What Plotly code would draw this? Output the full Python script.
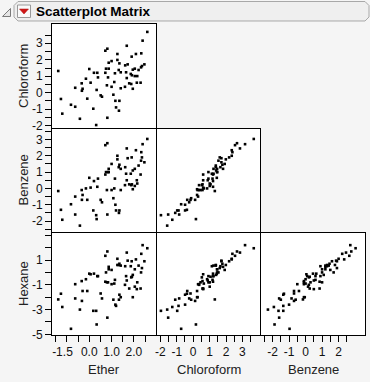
import plotly.graph_objects as go

# ---------------- data ----------------
ether = [2.60, 2.39, 1.68, 0.81, 0.72, 1.26, 2.33, 2.09, 1.90, 1.26,
         1.00, 0.87, 1.35, 1.72, 1.61, 2.47, 2.36, 2.32, 2.04, 2.21,
         1.95, 0.00, 0.75, 0.87, 1.32, -1.39, 0.21, 0.36, 0.72, 1.15,
         1.41, 1.65, 1.86, 1.91, 2.04, 2.15, -0.15, 0.39, 0.84, 1.68,
         -0.34, 0.06, 1.12, 0.79, 1.79, 1.88, 2.13, 2.30, 1.00, -0.63,
         -0.30, 0.33, 1.41, 1.60, 1.95, -0.33, 0.51, 0.57, 1.08, -0.09,
         -1.27, 1.17, 1.35, -0.82, -0.63, 0.18, 1.20, 1.33, -1.21, -0.42,
         0.81, 0.31]
chloroform = [3.69, 3.16, 2.85, 2.67, 2.55, 2.35, 2.39, 2.35, 2.19, 1.99,
              1.92, 1.82, 1.78, 1.72, 1.66, 1.72, 1.62, 1.54, 1.46, 1.38,
              1.40, 1.44, 1.46, 1.46, 1.38, 1.32, 1.21, 1.21, 1.21, 1.18,
              1.24, 1.24, 1.14, 1.06, 1.01, 1.01, 0.85, 0.93, 0.93, 0.89,
              0.57, 0.61, 0.65, 0.45, 0.57, 0.53, 0.61, 0.61, 0.36, 0.30,
              0.24, 0.17, 0.27, 0.36, 0.24, 0.12, -0.16, -0.24, -0.12, -0.36,
              -0.38, -0.49, -0.49, -0.73, -0.85, -0.97, -0.89, -1.09, -1.27, -1.58,
              -1.52, -1.96]
benzene = [3.03, 2.71, 2.45, 2.77, 2.65, 2.00, 2.22, 2.34, 1.90, 1.78,
           1.50, 1.20, 1.45, 1.85, 1.30, 1.60, 1.90, 1.70, 1.20, 1.40,
           1.10, 0.65, 1.00, 1.00, 1.30, -0.16, 0.45, 0.10, 0.85, 0.60,
           1.20, 0.90, 0.90, 0.25, 0.15, 0.30, 0.00, 0.60, 1.00, 0.50,
           -0.10, 0.05, 0.00, -0.10, 0.25, 0.20, 0.50, 0.85, -0.10, -0.50,
           -0.40, -1.88, -0.10, 0.20, -0.05, -0.70, -0.70, -0.85, -0.60, -0.70,
           -1.31, -1.00, -1.35, -0.97, -1.60, -1.35, -1.35, -1.50, -1.92, -2.28,
           -1.60, -1.64]
hexane = [1.95, 2.20, 1.60, 1.69, 1.34, 1.10, 1.50, 1.05, 0.90, 0.60,
          0.20, 0.45, 0.70, 0.95, 0.50, 0.90, 0.35, 0.00, 0.25, 0.55,
          -0.20, -0.10, 0.00, 0.25, 0.60, -2.18, -0.10, -0.30, -0.75, -0.60,
          0.55, -0.30, 0.50, -0.35, -1.15, -0.80, -0.55, -0.30, -0.80, -0.65,
          -0.70, -0.15, -0.90, -0.80, -1.30, -0.40, -1.35, -1.30, -0.95, -0.95,
          -1.50, -4.20, -2.00, -1.00, -2.00, -2.30, -1.70, -2.10, -2.20, -1.50,
          -1.72, -2.60, -1.80, -4.55, -2.10, -3.10, -2.70, -2.20, -2.79, -3.00,
          -3.65, -3.10]

variables = ["Ether", "Chloroform", "Benzene", "Hexane"]

# axis ranges and tick labels
ether_range = [-1.67, 2.99]
ether_ticks = [-1.5, 0, 1, 2]
ether_ticktext = ["\u00a0\u00a0\u00a0\u00a0-1.5", "0.0", "1.0", "2.0"]
ether_minor = [-1.5, -1.0, -0.5, 0.0, 0.5, 1.0, 1.5, 2.0, 2.5]

chloro_range_x = [-2.2, 4.07]
chloro_range_y = [-2.14, 4.17]
chloro_ticks = [-2, -1, 0, 1, 2, 3]
chloro_minor = [-2.0, -1.5, -1.0, -0.5, 0.0, 0.5, 1.0, 1.5, 2.0, 2.5, 3.0, 3.5]

benz_range_x = [-2.7, 3.6]
benz_range_y = [-2.67, 3.64]
benz_ticks_x = [-2, -1, 0, 1, 2]
benz_ticks_y = [-2, -1, 0, 1, 2, 3]
benz_minor = [-2.5, -2.0, -1.5, -1.0, -0.5, 0.0, 0.5, 1.0, 1.5, 2.0, 2.5, 3.0, 3.5]

hex_range = [-5.05, 3.18]
hex_ticks = [1, -1, -3, -5]
hex_minor = [-5, -4, -3, -2, -1, 0, 1, 2, 3]

# ---------------- layout helpers ----------------
W, H = 370, 382
FONT = "Liberation Sans, Arial, sans-serif"


def fx(p):
    return p / W


def fy(p):
    return 1 - p / H


# panel pixel boxes (adjacent panels share one border pixel)
cols = [(52, 156), (157, 260), (261, 365)]
rows = [(24, 128), (129, 232), (233, 335)]

data = {"Ether": ether, "Chloroform": chloroform, "Benzene": benzene, "Hexane": hexane}

# (x variable, y variable, column, row)
panels = [
    ("Ether", "Chloroform", 0, 0),
    ("Ether", "Benzene", 0, 1),
    ("Chloroform", "Benzene", 1, 1),
    ("Ether", "Hexane", 0, 2),
    ("Chloroform", "Hexane", 1, 2),
    ("Benzene", "Hexane", 2, 2),
]

xcfg = {
    "Ether": dict(range=ether_range, tickvals=ether_ticks, ticktext=ether_ticktext, minor=ether_minor),
    "Chloroform": dict(range=chloro_range_x, tickvals=chloro_ticks,
                       ticktext=[str(v) for v in chloro_ticks], minor=chloro_minor),
    "Benzene": dict(range=benz_range_x, tickvals=benz_ticks_x,
                    ticktext=[str(v) for v in benz_ticks_x], minor=[v for v in benz_minor if v <= 2.5]),
}
ycfg = {
    "Chloroform": dict(range=chloro_range_y, tickvals=chloro_ticks,
                       ticktext=[str(v) for v in chloro_ticks], minor=chloro_minor),
    "Benzene": dict(range=benz_range_y, tickvals=benz_ticks_y,
                    ticktext=[str(v) for v in benz_ticks_y], minor=benz_minor),
    "Hexane": dict(range=hex_range, tickvals=hex_ticks,
                   ticktext=[str(v) for v in hex_ticks], minor=hex_minor),
}

fig = go.Figure()
layout = {}

for i, (xv, yv, c, r) in enumerate(panels):
    n = "" if i == 0 else str(i + 1)
    fig.add_trace(go.Scatter(
        x=data[xv], y=data[yv], mode="markers",
        marker=dict(symbol="square", size=2.6, color="black", line=dict(width=0)),
        xaxis="x" + n, yaxis="y" + n, showlegend=False, hoverinfo="x+y",
    ))
    x0, x1 = cols[c]
    y0, y1 = rows[r]
    xc = xcfg[xv]
    yc = ycfg[yv]
    show_x = (r == 2)
    show_y = (c == 0)
    xa = dict(
        domain=[fx(x0), fx(x1)], range=xc["range"], anchor="y" + n, automargin=False,
        showgrid=False, zeroline=False, showline=True, mirror=True,
        linecolor="black", linewidth=1, fixedrange=True,
    )
    ya = dict(
        domain=[fy(y1), fy(y0)], range=yc["range"], anchor="x" + n, automargin=False,
        showgrid=False, zeroline=False, showline=True, mirror=True,
        linecolor="black", linewidth=1, fixedrange=True,
    )
    if show_x:
        xa.update(tickmode="array", tickvals=xc["tickvals"], ticktext=xc["ticktext"],
                  ticks="outside", ticklen=6, tickwidth=1, tickcolor="black",
                  tickfont=dict(family=FONT, size=12, color="#111111"),
                  minor=dict(tickmode="array", tickvals=xc["minor"], ticks="outside",
                             ticklen=6, tickwidth=1, tickcolor="black", showgrid=False))
    else:
        xa.update(showticklabels=False, ticks="")
    if show_y:
        ya.update(tickmode="array", tickvals=yc["tickvals"], ticktext=yc["ticktext"],
                  ticks="outside", ticklen=6, tickwidth=1, tickcolor="black",
                  tickfont=dict(family=FONT, size=12, color="#111111"),
                  minor=dict(tickmode="array", tickvals=yc["minor"], ticks="outside",
                             ticklen=6, tickwidth=1, tickcolor="black", showgrid=False))
    else:
        ya.update(showticklabels=False, ticks="")
    layout["xaxis" + n] = xa
    layout["yaxis" + n] = ya

# white panel backgrounds
shapes = []
for (xv, yv, c, r) in panels:
    x0, x1 = cols[c]
    y0, y1 = rows[r]
    shapes.append(dict(type="rect", xref="paper", yref="paper", layer="below",
                       x0=fx(x0), x1=fx(x1), y0=fy(y1), y1=fy(y0),
                       fillcolor="white", line=dict(width=0)))

# title bar (outline box, disclosure triangle, red menu button)
def path(points, close=True):
    s = "M " + " L ".join(f"{fx(a):.5f},{fy(b):.5f}" for a, b in points)
    return s + (" Z" if close else "")

bx0, bx1, by0, by1, rr = 14, 369, 1.5, 21, 4
box = [(bx0 + rr, by0), (bx1 - rr, by0), (bx1, by0 + rr), (bx1, by1 - rr), (bx1 - rr, by1),
       (bx0 + rr, by1), (bx0, by1 - rr), (bx0, by0 + rr)]
shapes.append(dict(type="path", xref="paper", yref="paper", path=path(box),
                   fillcolor="#efefef", line=dict(color="#a8a8a8", width=1), layer="below"))
shapes.append(dict(type="path", xref="paper", yref="paper",
                   path=path([(10.5, 8.5), (10.5, 16.5), (2.5, 16.5)]),
                   fillcolor="#e6e6e6", line=dict(color="#7a7a7a", width=1)))
shapes.append(dict(type="rect", xref="paper", yref="paper",
                   x0=fx(17.5), x1=fx(30.5), y0=fy(17.5), y1=fy(5),
                   fillcolor="#fafafa", line=dict(color="#9a9a9a", width=1)))
shapes.append(dict(type="path", xref="paper", yref="paper",
                   path=path([(19.5, 9), (28.5, 9), (24, 14)]),
                   fillcolor="#d01818", line=dict(color="#b01010", width=0.5)))

annotations = [
    dict(text="<b>Scatterplot Matrix</b>", x=fx(33.5), y=fy(11.5), xref="paper", yref="paper",
         xanchor="left", yanchor="middle", showarrow=False,
         font=dict(family=FONT, size=13.5, color="black")),
]
# axis titles
ytitles = ["Chloroform", "Benzene", "Hexane"]
xtitles = ["Ether", "Chloroform", "Benzene"]
for r, t in enumerate(ytitles):
    y0, y1 = rows[r]
    annotations.append(dict(text=t, x=fx(23), y=fy((y0 + y1) / 2), xref="paper", yref="paper",
                            textangle=-90, xanchor="center", yanchor="middle", showarrow=False,
                            font=dict(family=FONT, size=13, color="#222222")))
for c, t in enumerate(xtitles):
    x0, x1 = cols[c]
    annotations.append(dict(text=t, x=fx((x0 + x1) / 2), y=fy(369), xref="paper", yref="paper",
                            xanchor="center", yanchor="middle", showarrow=False,
                            font=dict(family=FONT, size=13, color="#222222")))

fig.update_layout(
    template="none",
    width=W, height=H, autosize=False,
    margin=dict(l=0, r=0, t=0, b=0, pad=0),
    paper_bgcolor="#f5f5f5", plot_bgcolor="white",
    shapes=shapes, annotations=annotations,
    **layout,
)

fig.write_html("out.html", config={"displayModeBar": False},
               post_script="document.body.style.margin='0px';document.body.style.overflow='hidden';")
